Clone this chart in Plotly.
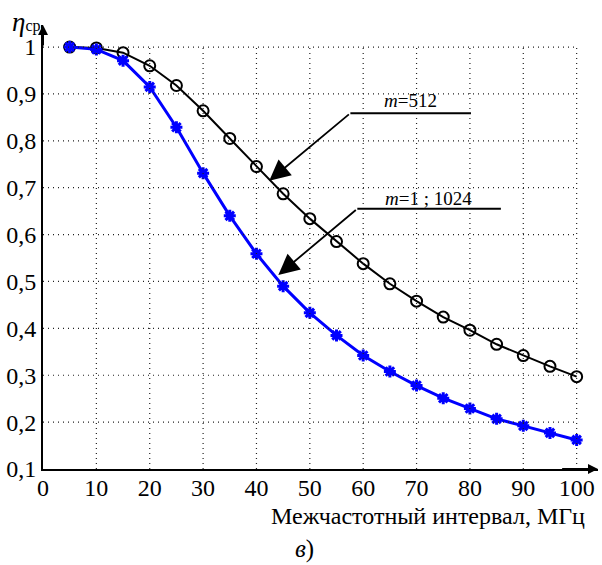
import plotly.graph_objects as go

# ---- data ----
x_vals = [5, 10, 15, 20, 25, 30, 35, 40, 45, 50, 55, 60, 65, 70, 75, 80, 85, 90, 95, 100]
eta_m512 = [1.000, 0.998, 0.988, 0.960, 0.918, 0.864, 0.805, 0.745, 0.687, 0.634, 0.585,
            0.538, 0.495, 0.458, 0.424, 0.396, 0.366, 0.342, 0.319, 0.297]
eta_m1_1024 = [1.000, 0.995, 0.971, 0.915, 0.829, 0.731, 0.640, 0.559, 0.490, 0.433, 0.385,
               0.342, 0.308, 0.278, 0.251, 0.229, 0.207, 0.192, 0.177, 0.162]
x_ticks = [0, 10, 20, 30, 40, 50, 60, 70, 80, 90, 100]
x_ticktext = ["0", "10", "20", "30", "40", "50", "60", "70", "80", "90", "100"]
y_ticks = [0.1, 0.2, 0.3, 0.4, 0.5, 0.6, 0.7, 0.8, 0.9, 1.0]
y_ticktext = ["0,1", "0,2", "0,3", "0,4", "0,5", "0,6", "0,7", "0,8", "0,9", "1"]

FONT = "Liberation Serif, Times New Roman, serif"
X_MAX, Y_MIN, Y_MAX = 104, 0.1, 1.047

fig = go.Figure()

fig.add_trace(go.Scatter(
    x=x_vals, y=eta_m512, mode="lines+markers", name="m=512",
    line=dict(color="black", width=2),
    marker=dict(symbol="circle-open", size=11, color="black", line=dict(width=2)),
))
fig.add_trace(go.Scatter(
    x=x_vals, y=eta_m1_1024, mode="lines+markers", name="m=1 ; 1024",
    line=dict(color="#0000ff", width=3),
    marker=dict(symbol="asterisk-open", size=10, color="#0000ff", line=dict(width=3, color="#0000ff")),
))

shapes = []
GRID = dict(color="#222", width=1.2, dash="1px,4px")
# dotted grid limited to data box
for xv in x_ticks[1:]:
    shapes.append(dict(type="line", xref="x", yref="y", x0=xv, x1=xv, y0=y_ticks[0], y1=y_ticks[-1],
                       line=GRID, layer="above"))
for yv in y_ticks[1:]:
    shapes.append(dict(type="line", xref="x", yref="y", x0=x_ticks[0], x1=x_ticks[-1], y0=yv, y1=yv,
                       line=GRID, layer="above"))
# leader lines (horizontal parts)
shapes.append(dict(type="line", xref="x", yref="y", x0=57.6, x1=80.2, y0=0.859, y1=0.859,
                   line=dict(color="black", width=2)))
shapes.append(dict(type="line", xref="x", yref="y", x0=58.9, x1=85.8, y0=0.655, y1=0.655,
                   line=dict(color="black", width=2)))

annotations = [
    # axis arrows
    dict(x=X_MAX, y=Y_MIN, ax=97, ay=Y_MIN, xref="x", yref="y", axref="x", ayref="y",
         showarrow=True, arrowhead=2, arrowsize=1, arrowwidth=2, arrowcolor="black", text=""),
    dict(x=0, y=Y_MAX, ax=0, ay=1.0, xref="x", yref="y", axref="x", ayref="y",
         showarrow=True, arrowhead=2, arrowsize=1, arrowwidth=2, arrowcolor="black", text=""),
    # pointer arrows
    dict(x=42.4, y=0.715, ax=57.6, ay=0.859, xref="x", yref="y", axref="x", ayref="y",
         showarrow=True, arrowhead=2, arrowsize=2.3, arrowwidth=1.8, arrowcolor="black", text=""),
    dict(x=44.1, y=0.514, ax=58.9, ay=0.655, xref="x", yref="y", axref="x", ayref="y",
         showarrow=True, arrowhead=2, arrowsize=2.3, arrowwidth=1.8, arrowcolor="black", text=""),
    # labels
    dict(x=68.8, y=0.887, xref="x", yref="y", showarrow=False, text="<i>m</i>=512",
         font=dict(family=FONT, size=19, color="black")),
    dict(x=72.3, y=0.678, xref="x", yref="y", showarrow=False, text="<i>m</i>=1 ; 1024",
         font=dict(family=FONT, size=19, color="black")),
    # y-axis label
    dict(x=-0.059, y=1.007, xref="paper", yref="paper", xanchor="left", yanchor="middle",
         showarrow=False, text="<i>η</i><span style='font-size:16px'>ср</span>",
         font=dict(family=FONT, size=27, color="black")),
    # x-axis title
    dict(x=0.981, y=-0.106, xref="paper", yref="paper", xanchor="right", yanchor="middle",
         showarrow=False, text="Межчастотный интервал, МГц",
         font=dict(family=FONT, size=24, color="black")),
    dict(x=0.472, y=-0.1795, xref="paper", yref="paper", xanchor="center", yanchor="middle",
         showarrow=False, text="<i>в</i>)",
         font=dict(family=FONT, size=25, color="black")),
]

fig.update_layout(
    width=602, height=565,
    margin=dict(l=43, r=4, t=25, b=96, autoexpand=False),
    paper_bgcolor="white", plot_bgcolor="white",
    showlegend=False,
    shapes=shapes, annotations=annotations,
    font=dict(family=FONT, size=24, color="black"),
)
fig.update_xaxes(range=[0, X_MAX], tickvals=x_ticks, ticktext=x_ticktext, showgrid=False,
                 zeroline=False, showline=True, linecolor="black", linewidth=2, ticks="",
                 automargin=False, ticklabelstandoff=-4,
                 tickfont=dict(family=FONT, size=24, color="black"))
fig.update_yaxes(range=[Y_MIN, Y_MAX], tickvals=y_ticks, ticktext=y_ticktext, showgrid=False,
                 zeroline=False, showline=True, linecolor="black", linewidth=2, ticks="",
                 automargin=False, ticklabelstandoff=0,
                 tickfont=dict(family=FONT, size=24, color="black"))

# remove the default 8px page margin so the figure sits at the window origin
fig.write_html("out.html", config={"displayModeBar": False},
               post_script="document.body.style.margin='0';")
